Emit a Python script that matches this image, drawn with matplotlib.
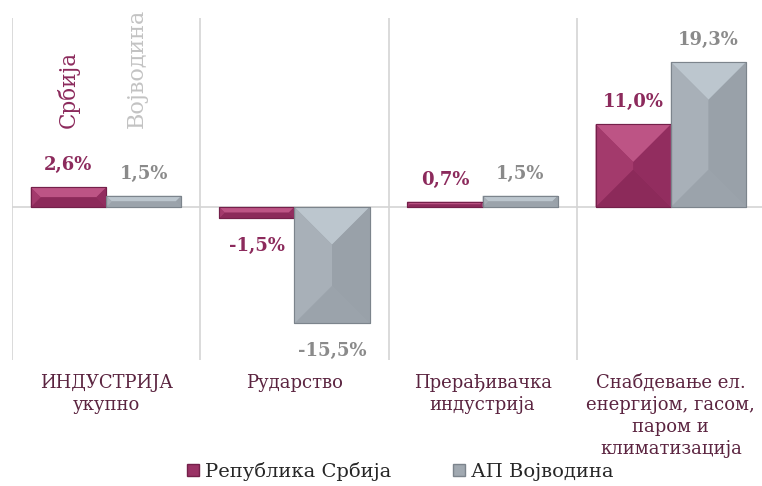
import numpy as np
import matplotlib
matplotlib.use('Agg')
import matplotlib.pyplot as plt
from matplotlib.patches import Polygon, Patch

categories = ['ИНДУСТРИЈА\nукупно', 'Рударство', 'Прерађивачка\nиндустрија',
              'Снабдевање ел.\nенергијом, гасом,\nпаром и\nклиматизација']
srbija = [2.6, -1.5, 0.7, 11.0]
vojvodina = [1.5, -15.5, 1.5, 19.3]
series_names = ['Република Србија', 'АП Војводина']

plt.rcParams['font.family'] = ['DejaVu Serif']

# colours for each face of the bevelled bars
mag = dict(base='#9a3265', top='#bd5485', left='#a33a6c', right='#922d5f',
           bottom='#8c2a5a', edge='#74204a', label='#8c2a5c')
gry = dict(base='#a1a9b1', top='#bcc6ce', left='#a8b0b8', right='#99a1a9',
           bottom='#9ba3ab', edge='#7c848c', label='#8a8a8a')

fig = plt.figure(figsize=(7.62, 4.86), dpi=100)
ax = fig.add_axes([12/762, 1-360/486, 753/762, 342/486])
ax.set_xlim(-0.5, 3.5)
ax.set_ylim(-20.37, 25.17)

x = np.arange(len(categories))
w = 0.4
b1 = ax.bar(x - w/2, srbija, w, color=mag['base'], edgecolor=mag['edge'], lw=0.8, zorder=3)
b2 = ax.bar(x + w/2, vojvodina, w, color=gry['base'], edgecolor=gry['edge'], lw=0.8, zorder=3)

# pixels per data unit
bbox = ax.get_position()
sx = bbox.width * 762 / 4.0
sy = bbox.height * 486 / (25.17 + 20.37)


def bevel(bar, c):
    x0 = bar.get_x(); x1 = x0 + bar.get_width()
    y0 = min(bar.get_y(), bar.get_y() + bar.get_height())
    y1 = max(bar.get_y(), bar.get_y() + bar.get_height())
    d = min((x1 - x0) * sx, (y1 - y0) * sy) / 2
    dx = d / sx; dy = d / sy
    polys = [
        ([(x0, y1), (x1, y1), (x1 - dx, y1 - dy), (x0 + dx, y1 - dy)], c['top']),
        ([(x0, y0), (x1, y0), (x1 - dx, y0 + dy), (x0 + dx, y0 + dy)], c['bottom']),
        ([(x0, y0), (x0, y1), (x0 + dx, y1 - dy), (x0 + dx, y0 + dy)], c['left']),
        ([(x1, y0), (x1, y1), (x1 - dx, y1 - dy), (x1 - dx, y0 + dy)], c['right']),
    ]
    for pts, col in polys:
        ax.add_patch(Polygon(pts, closed=True, facecolor=col, edgecolor='none', zorder=4))
    ax.add_patch(plt.Rectangle((x0, y0), x1 - x0, y1 - y0, fill=False,
                               edgecolor=c['edge'], lw=0.8, zorder=5))


for bar in b1:
    bevel(bar, mag)
for bar in b2:
    bevel(bar, gry)


def fmt(v):
    return ('%.1f%%' % v).replace('.', ',')


for bars, vals, c in [(b1, srbija, mag), (b2, vojvodina, gry)]:
    for bar, v in zip(bars, vals):
        cx = bar.get_x() + bar.get_width() / 2
        off = 16 if v >= 0 else -20
        ax.annotate(fmt(v), (cx, v), xytext=(0, off), textcoords='offset points',
                    ha='center', va='center', fontsize=13, fontweight='bold',
                    color=c['label'], zorder=6)

ax.text(-0.2, 10.5, 'Србија', rotation=90, ha='center', va='bottom',
        fontsize=15.5, color=mag['label'])
ax.text(0.165, 10.5, 'Војводина', rotation=90, ha='center', va='bottom',
        fontsize=16, color='#c3c3c3')

ax.axhline(0, color='#d4d4d4', lw=1.2, zorder=2)
for b in np.arange(-0.5, 4, 1):
    ax.axvline(b, color='#dadada', lw=1.4, zorder=1)

for s in ax.spines.values():
    s.set_visible(False)
ax.set_yticks([])
ax.set_xticks(x)
ax.set_xticklabels(categories, fontsize=13, color='#5b2440', linespacing=1.28)
ax.tick_params(axis='x', length=0, pad=10)

handles = [Patch(facecolor=mag['base'], edgecolor=mag['edge']),
           Patch(facecolor=gry['base'], edgecolor=gry['edge'])]
fig.legend(handles, series_names, loc='lower center', bbox_to_anchor=(0.525, -0.025),
           ncol=2, frameon=False, fontsize=14, handlelength=0.6, handleheight=0.6,
           handletextpad=0.3, columnspacing=3.2, labelcolor='#262626')

fig.savefig('out.png', dpi=100)
